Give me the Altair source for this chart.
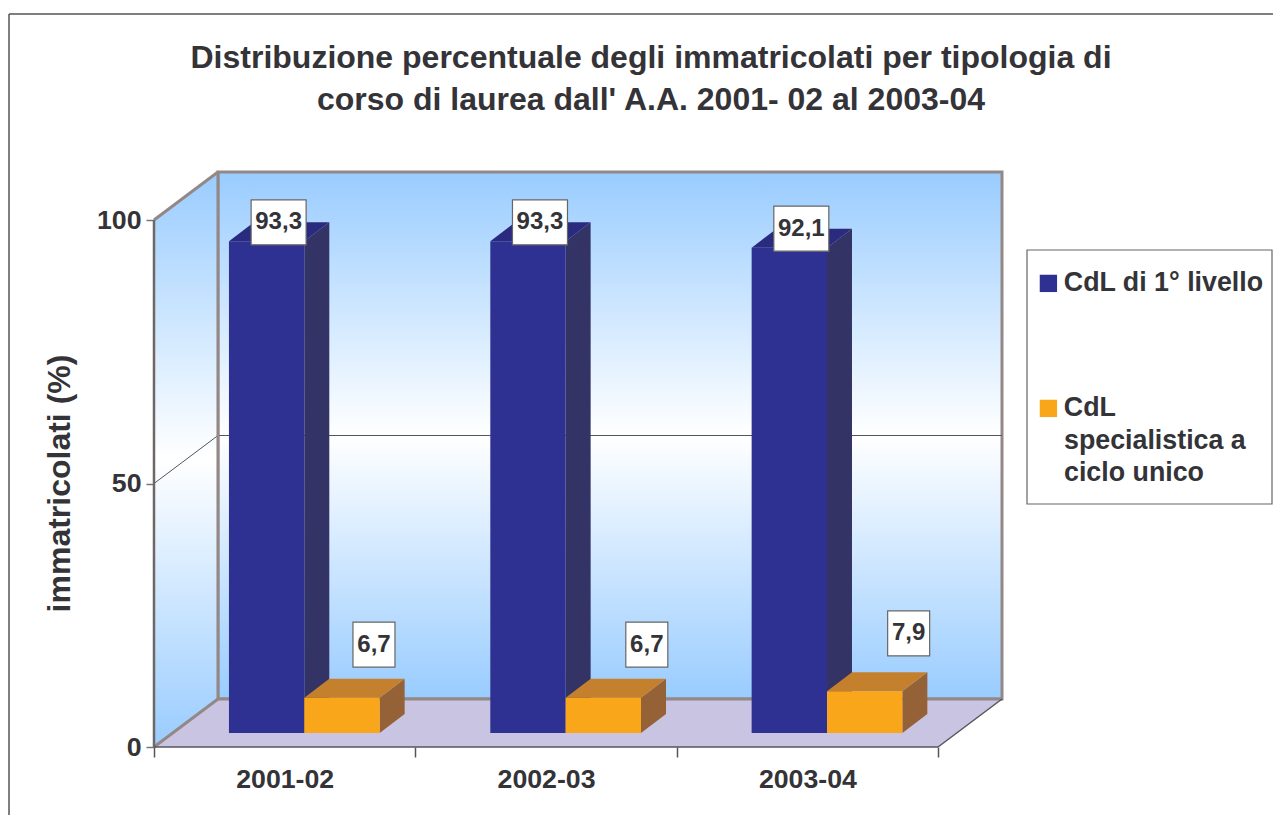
import altair as alt
import pandas as pd

# --- values
categories = ["2001-02", "2002-03", "2003-04"]
first_level = [93.3, 93.3, 92.1]
single_cycle = [6.7, 6.7, 7.9]
series_names = ["CdL di 1° livello", "CdL specialistica a ciclo unico"]
y_ticks = [0, 50, 100]
title_lines = ["Distribuzione percentuale degli immatricolati per tipologia di",
               "corso di laurea dall' A.A. 2001- 02 al 2003-04"]

# --- drawing geometry (3D look): pixels per data unit and depth of the box
PX_X, PX_Y = 261.5, 5.27
DEPTH_X, DEPTH_Y = 64 / PX_X, 48 / PX_Y
BAR_W = 75.4 / PX_X
BAR_START = 75 / PX_X
BAR_BASE = 14 / PX_Y
BAR_DX, BAR_DY = 25 / PX_X, 19 / PX_Y
X_MAX, Y_MAX = 3 + DEPTH_X, 100 + DEPTH_Y
W, H = round(X_MAX * PX_X), round(Y_MAX * PX_Y)
# nudges of the value boxes from the bar's top-centre, in pixels
blue_nudge = [(12, -19), (12, -19), (12, -19)]
orange_nudge = [(32, -53), (43.5, -53), (44, -58)]

FONT = "Liberation Sans"
INK = "#333338"
EDGE = "#948886"
BLUE, BLUE_SIDE, BLUE_TOP = "#2E3191", "#333366", "#2A2B7E"
ORANGE, ORANGE_SIDE, ORANGE_TOP = "#FAA61A", "#946236", "#C4802C"

xs = alt.Scale(domain=[0, X_MAX], nice=False, zero=False)
ys = alt.Scale(domain=[0, Y_MAX], nice=False, zero=False)
X = lambda f="x": alt.X(f"{f}:Q", scale=xs)
Y = lambda f="y": alt.Y(f"{f}:Q", scale=ys)

wall_fill = alt.Gradient(
    gradient="linear", x1=0, x2=0, y1=0, y2=1,
    stops=[alt.GradientStop(offset=0, color="#99CCFF"),
           alt.GradientStop(offset=0.5, color="#FFFFFF"),
           alt.GradientStop(offset=1, color="#99CCFF")])

# --- walls and floor
cat_list = ",".join(f"'{c}'" for c in categories)
x_axis = alt.Axis(
    values=[0, 0.5, 1, 1.5, 2, 2.5, 3], domain=False, grid=False, title=None,
    tickSize=10, tickColor="#555555", tickWidth=1.5,
    tickOpacity={"condition": {"test": "datum.value % 1 === 0", "value": 1}, "value": 0},
    labelExpr="datum.value % 1 === 0 ? '' : [" + cat_list + "][floor(datum.value)]",
    labelFont=FONT, labelFontSize=26.7, labelFontWeight="bold", labelColor=INK,
    labelPadding=9, labelFlush=False, labelOverlap=False, labelAngle=0)
y_axis = alt.Axis(
    values=y_ticks, domain=False, grid=False, tickSize=8, tickColor="#777777",
    tickWidth=1.5, labelFont=FONT, labelFontSize=26.7, labelFontWeight="bold",
    labelColor=INK, labelPadding=5, title="immatricolati (%)", titleFont=FONT,
    titleFontSize=32, titleFontWeight="bold", titleColor=INK, titleAngle=270,
    titleAlign="center", titleBaseline="middle", titleX=-95, titleY=311)

back = alt.Chart(pd.DataFrame({"x": [DEPTH_X], "x2": [X_MAX], "y": [DEPTH_Y], "y2": [Y_MAX]})).mark_rect(
    color=wall_fill, stroke=EDGE, strokeWidth=3
).encode(alt.X("x:Q", scale=xs, axis=x_axis), alt.X2("x2:Q"),
         alt.Y("y:Q", scale=ys, axis=y_axis), alt.Y2("y2:Q"))

left = alt.Chart(pd.DataFrame({"x": [0, DEPTH_X], "y": [0, DEPTH_Y], "y2": [100, Y_MAX]})).mark_area(
    color=wall_fill
).encode(X(), Y(), alt.Y2("y2:Q"))

floor = alt.Chart(pd.DataFrame({"y": [0, DEPTH_Y], "x": [0, DEPTH_X], "x2": [3, X_MAX]})).mark_area(
    orient="horizontal", color="#C8C4E2"
).encode(Y(), X(), alt.X2("x2:Q"))

# --- box edges
def edge_layer(points, color, width):
    rows = [{"id": i, "x": p[0], "y": p[1]} for i, seg in enumerate(points) for p in seg]
    return alt.Chart(pd.DataFrame(rows)).mark_line(color=color, strokeWidth=width, clip=False).encode(
        X(), Y(), detail="id:N")

edges_grey = edge_layer(
    [[(0, 0), (DEPTH_X, DEPTH_Y)], [(0, 100), (DEPTH_X, Y_MAX)],
     [(DEPTH_X, DEPTH_Y), (DEPTH_X, Y_MAX)], [(DEPTH_X, DEPTH_Y), (X_MAX, DEPTH_Y)]], EDGE, 3)
edges_dark = edge_layer(
    [[(0, 0), (3, 0)], [(3, 0), (X_MAX, DEPTH_Y)]], "#55555C", 1.5)
edges_left = edge_layer([[(0, 0), (0, 100)]], "#6F6766", 2.5)
gridline = edge_layer(
    [[(0, 50), (DEPTH_X, 50 + DEPTH_Y)], [(DEPTH_X, 50 + DEPTH_Y), (X_MAX, 50 + DEPTH_Y)]], "#55555C", 1)

# --- bars
rows = []
for i, (a, b) in enumerate(zip(first_level, single_cycle)):
    for j, v in enumerate((a, b)):
        x0 = i + BAR_START + j * BAR_W
        rows.append({"bar": f"{i}-{j}", "series": series_names[j], "j": j, "value": v,
                     "x0": x0, "x1": x0 + BAR_W, "top": BAR_BASE + v})
bars = pd.DataFrame(rows)

def side(df):
    out = []
    for r in df.itertuples():
        out.append({"bar": r.bar, "x": r.x1, "y": BAR_BASE, "y2": r.top})
        out.append({"bar": r.bar, "x": r.x1 + BAR_DX, "y": BAR_BASE + BAR_DY, "y2": r.top + BAR_DY})
    return pd.DataFrame(out)

def top(df):
    out = []
    for r in df.itertuples():
        out.append({"bar": r.bar, "y": r.top, "x": r.x0, "x2": r.x1})
        out.append({"bar": r.bar, "y": r.top + BAR_DY, "x": r.x0 + BAR_DX, "x2": r.x1 + BAR_DX})
    return pd.DataFrame(out)

def faces(j, side_color, top_color):
    df = bars[bars.j == j]
    s = alt.Chart(side(df)).mark_area(color=side_color).encode(X(), Y(), alt.Y2("y2:Q"), detail="bar:N")
    t = alt.Chart(top(df)).mark_area(orient="horizontal", color=top_color).encode(
        Y(), X(), alt.X2("x2:Q"), detail="bar:N")
    return s + t

legend = alt.Legend(
    orient="none", legendX=872, legendY=78, title=" ", titleFontSize=2, titlePadding=9,
    symbolType="square", symbolSize=300,
    symbolStrokeWidth=0, symbolOffset=0, padding=9,
    labelFont=FONT, labelFontSize=26.8, labelFontWeight="bold", labelColor=INK, labelLimit=400,
    labelOffset=2, labelBaseline="middle", rowPadding=97,
    labelExpr="datum.label === '" + series_names[1] + "' ? 'CdL' : datum.label")

fronts = alt.Chart(bars).mark_rect().encode(
    X("x0"), alt.X2("x1:Q"),
    Y("base"), alt.Y2("top:Q"),
    alt.Color("series:N", scale=alt.Scale(domain=series_names, range=[BLUE, ORANGE]), legend=legend),
).transform_calculate(base=str(BAR_BASE))

# --- value boxes
lab = []
for r in bars.itertuples():
    i = int(r.bar[0])
    dx, dy = (blue_nudge if r.j == 0 else orange_nudge)[i]
    lab.append({"j": r.j, "x": (r.x0 + r.x1) / 2 + dx / PX_X, "y": r.top - dy / PX_Y,
                "text": f"{r.value:.1f}".replace(".", ",")})
labels = pd.DataFrame(lab)

def boxes(j, w):
    return alt.Chart(labels[labels.j == j]).mark_rect(
        width=w, height=45, fill="white", stroke="#666666", strokeWidth=1.2
    ).encode(X(), Y())

texts = alt.Chart(labels).mark_text(
    font=FONT, fontSize=24, fontWeight="bold", color=INK, align="center", baseline="middle"
).encode(X(), Y(), text="text:N")

# --- outer frame of the figure (only its top and left edges fall inside the page)
one_row = pd.DataFrame({"a": [0]})
frame_top = alt.Chart(one_row).mark_rule(color="#555555", strokeWidth=1.5).encode(
    x=alt.value(-145), x2=alt.value(W + 271), y=alt.value(-158))
frame_left = alt.Chart(one_row).mark_rule(color="#555555", strokeWidth=1.5).encode(
    x=alt.value(-145), y=alt.value(-158), y2=alt.value(H + 68))
# outline of the legend panel and the wrapped remainder of its second entry
legend_box = alt.Chart(one_row).mark_rect(fill="transparent", stroke="#666666", strokeWidth=1.2).encode(
    x=alt.value(873), x2=alt.value(1118), y=alt.value(78), y2=alt.value(332))

def legend_line(text, y):
    return alt.Chart(one_row).mark_text(
        text=text, font=FONT, fontSize=26.8, fontWeight="bold", color=INK, align="left", baseline="middle"
    ).encode(x=alt.value(910), y=alt.value(y))

chart = alt.layer(
    back, left, floor, gridline, edges_grey, edges_left, edges_dark,
    faces(0, BLUE_SIDE, BLUE_TOP), faces(1, ORANGE_SIDE, ORANGE_TOP), fronts,
    boxes(0, 55), boxes(1, 42), texts, frame_top, frame_left, legend_box,
    legend_line("specialistica a", 269), legend_line("ciclo unico", 301),
).properties(
    width=W, height=H,
    padding={"left": 146, "top": 164, "right": 271, "bottom": 68},
    autosize=alt.AutoSizeParams(type="none"),
    title=alt.TitleParams(text=title_lines, anchor="middle", dx=73, dy=104, offset=0, lineHeight=42,
                          fontSize=32, font=FONT, fontWeight="bold", color=INK),
).configure_view(stroke=None)

chart.save("out.html", embed_options={"renderer": "svg", "actions": False})
